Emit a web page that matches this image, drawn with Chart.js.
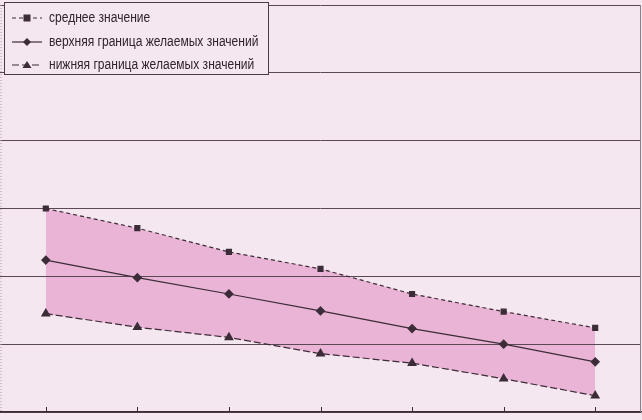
<!DOCTYPE html>
<html>
<head>
<meta charset="utf-8">
<script src="https://cdn.jsdelivr.net/npm/chart.js@4"></script>
<style>
  html, body { margin: 0; padding: 0; background: #f5e7ef; }
  #wrap { width: 642px; height: 420px; }
</style>
</head>
<body>
<div id="wrap"><canvas id="chart" width="642" height="420"></canvas></div>
<script>
// categories (no labels are printed on the axis)
var categories = ['1', '2', '3', '4', '5', '6', '7'];

// series
var meanValues = [3.0, 2.71, 2.36, 2.11, 1.74, 1.48, 1.24];
var upperValues = [2.24, 1.98, 1.74, 1.49, 1.23, 1.0, 0.74];
var lowerValues = [1.45, 1.25, 1.1, 0.86, 0.72, 0.49, 0.24];

var seriesLabels = [
    'среднее значение',
    'верхняя граница желаемых значений',
    'нижняя граница желаемых значений'
];

var ink = '#3b2c37';
var bandColor = '#eab4d6';

// legend drawn inside the plot, top left, in a framed box
var boxLegend = {
    id: 'boxLegend',
    afterDraw: function(chart) {
        var ctx = chart.ctx;
        var x0 = 4, y0 = 2, w = 264, h = 72;
        ctx.save();
        ctx.fillStyle = '#f5e7ef';
        ctx.fillRect(x0, y0, w, h);
        ctx.strokeStyle = '#4a3a45';
        ctx.lineWidth = 1;
        ctx.strokeRect(x0 + 0.5, y0 + 0.5, w, h);

        var rows = [18, 42, 65];
        chart.data.datasets.forEach(function(ds, i) {
            var y = rows[i];
            ctx.strokeStyle = ds.borderColor;
            ctx.lineWidth = 1.2;
            ctx.setLineDash(ds.borderDash || []);
            ctx.beginPath();
            ctx.moveTo(12, y);
            ctx.lineTo(42, y);
            ctx.stroke();
            ctx.setLineDash([]);
            ctx.fillStyle = ink;
            var s = 3.5;
            ctx.beginPath();
            if (ds.pointStyle === 'rect') {
                ctx.rect(27 - s, y - s, 2 * s, 2 * s);
            } else if (ds.pointStyle === 'rectRot') {
                ctx.moveTo(27, y - 4); ctx.lineTo(31, y); ctx.lineTo(27, y + 4); ctx.lineTo(23, y);
            } else {
                ctx.moveTo(27, y - 4); ctx.lineTo(31.5, y + 3); ctx.lineTo(22.5, y + 3);
            }
            ctx.closePath();
            ctx.fill();

            // the original uses a narrow face, so squeeze the text a little
            ctx.fillStyle = '#2e2430';
            ctx.font = "14px 'Liberation Sans', 'DejaVu Sans', sans-serif";
            ctx.textBaseline = 'middle';
            var natural = ctx.measureText(ds.label).width;
            ctx.fillText(ds.label, 49, y, natural * 0.86);
        });
        ctx.restore();
    }
};

// short tick marks pointing up from the x axis, plus the side frame lines
var frame = {
    id: 'frame',
    afterDraw: function(chart) {
        var ctx = chart.ctx;
        var area = chart.chartArea;
        var xs = chart.scales.x;
        ctx.save();
        ctx.strokeStyle = '#3b2c37';
        ctx.lineWidth = 1;
        for (var i = 0; i < xs.ticks.length; i++) {
            var px = Math.round(xs.getPixelForTick(i)) + 0.5;
            ctx.beginPath();
            ctx.moveTo(px, area.bottom);
            ctx.lineTo(px, area.bottom - 5);
            ctx.stroke();
        }
        ctx.strokeStyle = '#8d8089';
        ctx.beginPath();
        ctx.moveTo(area.right - 0.5, area.top);
        ctx.lineTo(area.right - 0.5, area.bottom);
        ctx.stroke();
        ctx.strokeStyle = '#a99ca5';
        ctx.setLineDash([1, 2]);
        ctx.beginPath();
        ctx.moveTo(area.left + 1, area.top);
        ctx.lineTo(area.left + 1, area.bottom);
        ctx.stroke();
        ctx.restore();
    }
};

new Chart(document.getElementById('chart'), {
    type: 'line',
    data: {
        labels: categories,
        datasets: [{
            label: seriesLabels[0],
            data: meanValues,
            borderColor: ink,
            borderWidth: 1.2,
            borderDash: [4, 3],
            pointStyle: 'rect',
            pointRadius: 3.5,
            pointBackgroundColor: ink,
            pointBorderColor: ink,
            backgroundColor: bandColor,
            fill: 2
        }, {
            label: seriesLabels[1],
            data: upperValues,
            borderColor: ink,
            borderWidth: 1.2,
            pointStyle: 'rectRot',
            pointRadius: 4,
            pointBackgroundColor: ink,
            pointBorderColor: ink,
            fill: false
        }, {
            label: seriesLabels[2],
            data: lowerValues,
            borderColor: ink,
            borderWidth: 1.2,
            borderDash: [7, 3],
            pointStyle: 'triangle',
            pointRadius: 4.5,
            pointBackgroundColor: ink,
            pointBorderColor: ink,
            fill: false
        }]
    },
    options: {
        responsive: false,
        animation: false,
        layout: {
            autoPadding: false,
            padding: { left: 0, right: 1, top: 5, bottom: 8 }
        },
        plugins: {
            legend: { display: false },
            tooltip: { enabled: false },
            filler: { drawTime: 'beforeDraw' }
        },
        scales: {
            x: {
                offset: true,
                ticks: { display: false },
                grid: { display: false, drawTicks: false },
                border: { display: true, color: '#3b2c37', width: 1.5 }
            },
            y: {
                min: 0,
                max: 6,
                afterFit: function(scale) { scale.width = 0; },
                ticks: { display: false, stepSize: 1 },
                grid: { color: '#5a4855', lineWidth: 1, drawTicks: false },
                border: { display: false }
            }
        }
    },
    plugins: [boxLegend, frame]
});
</script>
</body>
</html>
